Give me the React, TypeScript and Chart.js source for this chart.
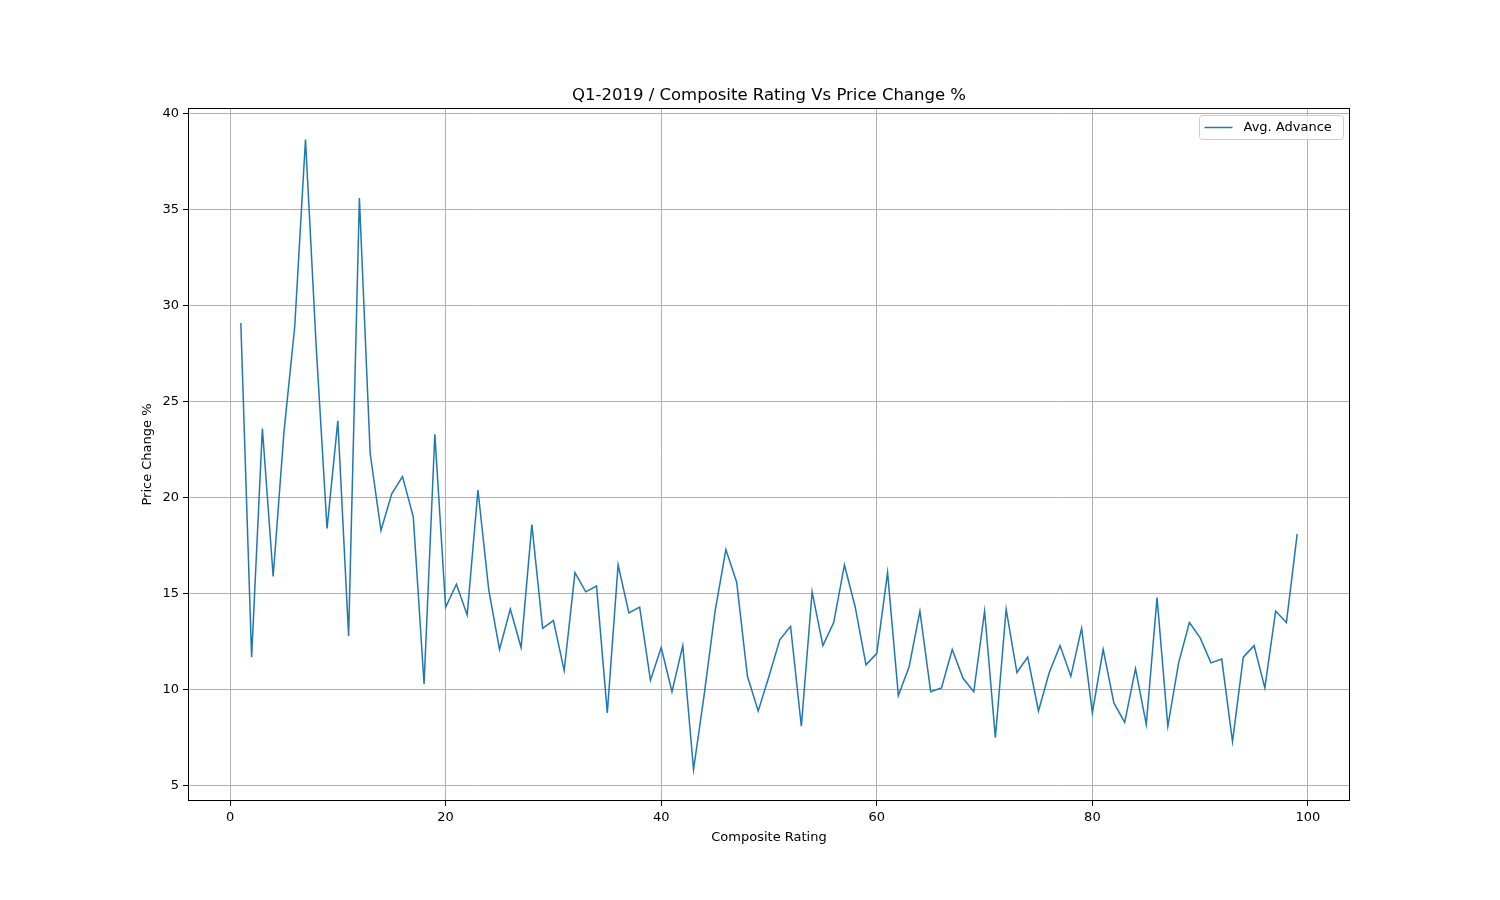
import { useEffect, useRef } from "react";
import { Chart, registerables } from "chart.js";

Chart.register(...registerables);

const ratings = Array.from({ length: 99 }, (_, i) => i + 1);
const avgAdvance = [
  29.1, 11.7, 23.6, 15.9, 23.4, 28.9, 38.65, 27.8, 18.4, 24.0,
  12.8, 35.6, 22.3, 18.3, 20.2, 21.1, 19.0, 10.3, 23.3, 14.3,
  15.5, 13.9, 20.4, 15.2, 12.1, 14.2, 12.2, 18.6, 13.2, 13.6,
  11.0, 16.1, 15.1, 15.4, 8.8, 16.5, 14.0, 14.3, 10.5, 12.2,
  9.9, 12.3, 5.85, 9.8, 14.1, 17.3, 15.6, 10.7, 8.9, 10.7,
  12.6, 13.3, 8.1, 15.1, 12.3, 13.5, 16.5, 14.3, 11.3, 11.9,
  16.1, 9.7, 11.2, 14.1, 9.9, 10.1, 12.1, 10.6, 9.9, 14.1,
  7.5, 14.2, 10.9, 11.7, 8.9, 10.9, 12.3, 10.7, 13.2, 8.8,
  12.1, 9.3, 8.3, 11.1, 8.2, 14.8, 8.1, 11.4, 13.5, 12.7,
  11.4, 11.6, 7.3, 11.7, 12.3, 10.1, 14.1, 13.5, 18.1,
];
const xTicks = [0, 20, 40, 60, 80, 100];
const yTicks = [5, 10, 15, 20, 25, 30, 35, 40];

const FONT = "'DejaVu Sans', sans-serif";
const BLUE = "#1f77b4";

const decor = {
  id: "decor",
  afterDraw(chart: any) {
    const { ctx, chartArea: a } = chart;
    ctx.save();
    ctx.fillStyle = "#000";
    ctx.textAlign = "center";
    ctx.textBaseline = "alphabetic";
    ctx.font = `16.5px ${FONT}`;
    ctx.fillText("Q1-2019 / Composite Rating Vs Price Change %", (a.left + a.right) / 2, 100);
    ctx.font = `13px ${FONT}`;
    ctx.fillText("Composite Rating", (a.left + a.right) / 2, 841);
    ctx.save();
    ctx.translate(151, (a.top + a.bottom) / 2);
    ctx.rotate(-Math.PI / 2);
    ctx.fillText("Price Change %", 0, 0);
    ctx.restore();
    // border
    ctx.strokeStyle = "#000";
    ctx.lineWidth = 1;
    ctx.strokeRect(a.left + 0.5, a.top + 0.5, a.right - a.left - 1, a.bottom - a.top - 1);
    // legend
    const lx = 1199.5, ly = 115.5, lw = 144, lh = 24;
    ctx.fillStyle = "rgba(255,255,255,0.8)";
    ctx.strokeStyle = "#cccccc";
    ctx.beginPath();
    ctx.roundRect(lx, ly, lw, lh, 3);
    ctx.fill();
    ctx.stroke();
    ctx.strokeStyle = BLUE;
    ctx.lineWidth = 1.5;
    ctx.beginPath();
    ctx.moveTo(lx + 5, ly + 12);
    ctx.lineTo(lx + 33, ly + 12);
    ctx.stroke();
    ctx.fillStyle = "#000";
    ctx.textAlign = "left";
    ctx.textBaseline = "middle";
    ctx.fillText("Avg. Advance", lx + 44, ly + 12);
    ctx.restore();
  },
};

export default function App() {
  const canvasRef = useRef<HTMLCanvasElement>(null);

  useEffect(() => {
    document.body.style.margin = "0";
    if (!canvasRef.current) return;
    const chart = new Chart(canvasRef.current, {
      type: "line",
      data: {
        datasets: [{
          data: ratings.map((r, i) => ({ x: r, y: avgAdvance[i] })),
          borderColor: BLUE,
          borderWidth: 1.5,
          pointRadius: 0,
          tension: 0,
          fill: false,
        }],
      },
      options: {
        responsive: false,
        animation: false,
        layout: { padding: { top: 108, right: 150, left: 0, bottom: 0 } },
        plugins: { legend: { display: false }, tooltip: { enabled: false }, title: { display: false } },
        scales: {
          x: {
            type: "linear",
            min: -3.9,
            max: 103.9,
            afterBuildTicks: (s: any) => { s.ticks = xTicks.map((v) => ({ value: v })); },
            afterFit: (s: any) => { s.height = 99; },
            ticks: { color: "#000", font: { size: 13, family: FONT }, padding: 4, maxRotation: 0 },
            grid: { color: "#b0b0b0", tickColor: "#000", tickLength: 5, lineWidth: 1 },
            border: { display: false },
          },
          y: {
            min: 4.21,
            max: 40.29,
            afterBuildTicks: (s: any) => { s.ticks = yTicks.map((v) => ({ value: v })); },
            afterFit: (s: any) => { s.width = 188; },
            ticks: { color: "#000", font: { size: 13, family: FONT }, padding: 4 },
            grid: { color: "#b0b0b0", tickColor: "#000", tickLength: 5, lineWidth: 1 },
            border: { display: false },
          },
        },
      },
      plugins: [decor],
    });
    return () => chart.destroy();
  }, []);

  return <canvas ref={canvasRef} width={1500} height={900} style={{ display: "block", width: 1500, height: 900, background: "#fff" }} />;
}
